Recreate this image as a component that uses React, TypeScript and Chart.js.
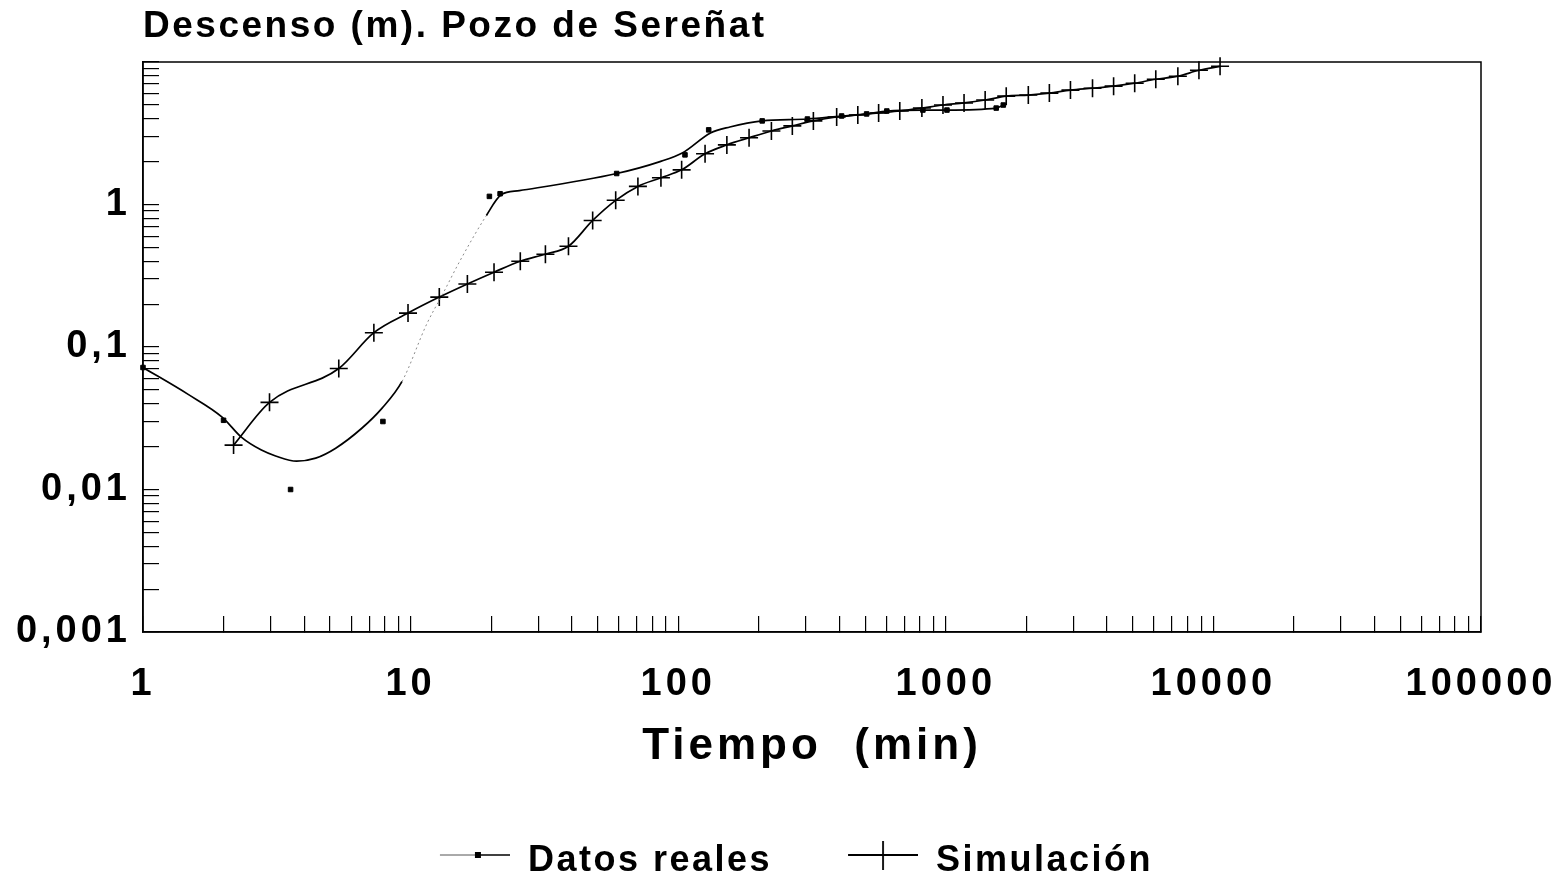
import React, { useEffect, useRef } from 'react';
import { Chart, registerables } from 'chart.js';

Chart.register(...registerables);

// ---- data ----
const chartTitle = 'Descenso (m). Pozo de Sereñat';
const xAxisTitle = 'Tiempo  (min)';
const seriesNames = ['Datos reales', 'Simulación'];

// measured drawdown (markers)
const realTime = [1, 2, 3.56, 7.88, 19.7, 21.6, 58.9, 106, 130, 206, 304, 408, 506, 602, 821, 1010, 1543, 1640];
const realDrawdown = [0.0718, 0.0306, 0.01, 0.03, 1.14, 1.19, 1.65, 2.23, 3.34, 3.86, 3.98, 4.18, 4.32, 4.53, 4.6, 4.6, 4.75, 4.99];

// smoothed curve through measured data (as drawn)
const curveTime = [1, 1.475, 1.98, 2.33, 2.77, 3.13, 3.75, 4.42, 5.25, 6.57, 7.81, 9.29, 11.5, 13.3, 15.2, 19.2, 21.8, 25.5, 58.9, 85.5, 104, 132, 156, 206, 304, 408, 506, 602, 821, 1010, 1543, 1640];
const curveDrawdown = [0.0718, 0.0465, 0.0321, 0.0233, 0.0189, 0.0172, 0.0158, 0.0166, 0.0195, 0.0269, 0.0371, 0.0573, 0.1455, 0.243, 0.394, 0.838, 1.17, 1.25, 1.65, 2.0, 2.31, 3.18, 3.5, 3.86, 3.98, 4.18, 4.32, 4.53, 4.6, 4.6, 4.75, 4.99];

// simulation
const simTime = [2.18, 2.97, 5.39, 7.29, 9.78, 12.8, 16.3, 20.5, 25.7, 31.9, 38.9, 47.9, 58.4, 70.7, 86.2, 103, 126, 152, 184, 223, 267, 320, 391, 469, 561, 673, 814, 976, 1170, 1403, 1682, 2034, 2438, 2923, 3534, 4237, 5080, 6091, 7365, 8830, 10590];
const simDrawdown = [0.0205, 0.0409, 0.0706, 0.126, 0.173, 0.224, 0.277, 0.335, 0.4, 0.448, 0.509, 0.773, 1.07, 1.34, 1.54, 1.75, 2.27, 2.62, 2.94, 3.28, 3.56, 3.86, 4.11, 4.25, 4.39, 4.53, 4.75, 4.99, 5.16, 5.41, 5.76, 5.86, 6.05, 6.35, 6.55, 6.77, 7.1, 7.57, 7.95, 8.75, 9.33];

// axes
const xRange = [1, 100000];
const yRange = [0.001, 10];
const xLabelValues = [1, 10, 100, 1000, 10000, 100000];
const xLabels = ['1', '10', '100', '1000', '10000', '100000'];
const yLabelValues = [0.001, 0.01, 0.1, 1];
const yLabels = ['0,001', '0,01', '0,1', '1'];

const FONT = '"Liberation Sans", Arial, Helvetica, sans-serif';

function logTicks(min: number, max: number) {
  const out: { value: number }[] = [];
  const e0 = Math.round(Math.log10(min));
  const e1 = Math.round(Math.log10(max));
  for (let e = e0; e < e1; e++) {
    for (let k = 1; k < 10; k++) out.push({ value: parseFloat((k * Math.pow(10, e)).toPrecision(6)) });
  }
  out.push({ value: max });
  return out;
}

function labelFor(v: number, values: number[], labels: string[]) {
  const i = values.findIndex((x) => Math.abs(Math.log10(x) - Math.log10(v)) < 1e-6);
  return i >= 0 ? labels[i] : '';
}

function makeIcon(kind: 'real' | 'sim') {
  const c = document.createElement('canvas');
  c.width = 127;
  c.height = 40;
  const g = c.getContext('2d')!;
  const y = 14;
  if (kind === 'real') {
    g.strokeStyle = '#555';
    g.lineWidth = 1;
    g.beginPath();
    g.moveTo(57, y);
    g.lineTo(93, y);
    g.stroke();
    g.strokeStyle = '#000';
    g.lineWidth = 1.6;
    g.beginPath();
    g.moveTo(93, y);
    g.lineTo(127, y);
    g.stroke();
    g.fillStyle = '#000';
    g.fillRect(92, y - 3, 6, 6);
  } else {
    g.strokeStyle = '#000';
    g.lineWidth = 1.8;
    g.beginPath();
    g.moveTo(57, y);
    g.lineTo(127, y);
    g.moveTo(92, 0);
    g.lineTo(92, 29);
    g.stroke();
  }
  return c;
}

const spacingPlugin = {
  id: 'letterSpacing',
  beforeDraw(chart: any) {
    chart.ctx.letterSpacing = '2.5px';
  },
  afterDatasetsDraw(chart: any) {
    chart.ctx.letterSpacing = '4px';
  },
  afterDraw(chart: any) {
    chart.ctx.letterSpacing = '0px';
  },
};

const framePlugin = {
  id: 'frame',
  afterDraw(chart: any) {
    const { ctx, chartArea } = chart;
    ctx.save();
    ctx.strokeStyle = '#000';
    ctx.lineWidth = 1.5;
    ctx.strokeRect(chartArea.left, chartArea.top, chartArea.right - chartArea.left, chartArea.bottom - chartArea.top);
    ctx.restore();
  },
};

export default function App() {
  const ref = useRef<HTMLCanvasElement>(null);

  useEffect(() => {
    const canvas = ref.current;
    if (!canvas) return;
    const iconReal = makeIcon('real');
    const iconSim = makeIcon('sim');

    const faint = (ctx: any) => ctx.p0.parsed.x >= 9 && ctx.p1.parsed.x <= 19.5;

    const chart = new Chart(canvas, {
      type: 'scatter',
      data: {
        datasets: [
          {
            label: seriesNames[0],
            data: curveTime.map((t, i) => ({ x: t, y: curveDrawdown[i] })),
            showLine: true,
            borderColor: '#000',
            borderWidth: 1.7,
            pointRadius: 0,
            cubicInterpolationMode: 'monotone',
            segment: {
              borderColor: (ctx: any) => (faint(ctx) ? '#8a8a8a' : undefined),
              borderDash: (ctx: any) => (faint(ctx) ? [2, 3] : undefined),
              borderWidth: (ctx: any) => (faint(ctx) ? 1 : undefined),
            },
          },
          {
            label: seriesNames[0] + ' (puntos)',
            data: realTime.map((t, i) => ({ x: t, y: realDrawdown[i] })),
            showLine: false,
            pointStyle: 'rect',
            pointRadius: 3.2,
            backgroundColor: '#000',
            borderColor: '#000',
            borderWidth: 1,
            clip: false,
          },
          {
            label: seriesNames[1],
            data: simTime.map((t, i) => ({ x: t, y: simDrawdown[i] })),
            showLine: true,
            borderColor: '#000',
            backgroundColor: '#000',
            borderWidth: 1.7,
            pointStyle: 'cross',
            pointRadius: 9,
            pointBorderWidth: 1.6,
            cubicInterpolationMode: 'monotone',
            clip: false,
          },
        ],
      } as any,
      options: {
        animation: false,
        responsive: false,
        events: [],
        layout: { padding: { left: 0, right: 81, top: 0, bottom: -12 } },
        font: { family: FONT },
        plugins: {
          tooltip: { enabled: false },
          title: {
            display: true,
            text: chartTitle,
            align: 'start',
            fullSize: false,
            color: '#000',
            font: { family: FONT, size: 37, weight: 'bold', lineHeight: 1.2 },
            padding: { top: 5, bottom: 12.6 },
          },
          legend: {
            display: true,
            position: 'bottom',
            align: 'center',
            labels: {
              usePointStyle: true,
              pointStyleWidth: 127,
              padding: 19,
              color: '#000',
              font: { family: FONT, size: 36, weight: 'bold' },
              generateLabels: () => [
                { text: seriesNames[0], pointStyle: iconReal, fillStyle: '#000', strokeStyle: '#000', lineWidth: 0, hidden: false, datasetIndex: 0, fontColor: '#000' },
                { text: seriesNames[1], pointStyle: iconSim, fillStyle: '#000', strokeStyle: '#000', lineWidth: 0, hidden: false, datasetIndex: 2, fontColor: '#000' },
              ],
            },
          },
        },
        scales: {
          x: {
            type: 'logarithmic',
            position: 'bottom',
            min: xRange[0],
            max: xRange[1],
            afterBuildTicks: (s: any) => {
              s.ticks = logTicks(xRange[0], xRange[1]);
            },
            afterFit: (s: any) => {
              s.height = 192;
              s.paddingLeft = 0;
              s.paddingRight = 0;
            },
            ticks: {
              autoSkip: false,
              maxRotation: 0,
              minRotation: 0,
              padding: 46,
              color: '#000',
              font: { family: FONT, size: 38, weight: 'bold' },
              callback: (v: any) => labelFor(Number(v), xLabelValues, xLabels),
              z: 1,
            },
            grid: { display: true, drawOnChartArea: false, drawTicks: true, tickLength: -16, color: '#000', lineWidth: 1.2, z: 1 },
            border: { display: true, color: '#000', width: 1.5, z: 1 },
            title: {
              display: true,
              text: xAxisTitle,
              color: '#000',
              font: { family: FONT, size: 44, weight: 'bold', lineHeight: 1.2 },
              padding: { top: 0, bottom: 51 },
            },
          },
          y: {
            type: 'logarithmic',
            position: 'left',
            min: yRange[0],
            max: yRange[1],
            afterBuildTicks: (s: any) => {
              s.ticks = logTicks(yRange[0], yRange[1]);
            },
            afterFit: (s: any) => {
              s.width = 143;
              s.paddingTop = 0;
              s.paddingBottom = 0;
            },
            ticks: {
              autoSkip: false,
              padding: 28,
              color: '#000',
              font: { family: FONT, size: 38, weight: 'bold' },
              callback: (v: any) => labelFor(Number(v), yLabelValues, yLabels),
              z: 1,
            },
            grid: { display: true, drawOnChartArea: false, drawTicks: true, tickLength: -16, color: '#000', lineWidth: 1.2, z: 1 },
            border: { display: true, color: '#000', width: 1.5, z: 1 },
          },
        },
      } as any,
      plugins: [spacingPlugin, framePlugin],
    });

    return () => chart.destroy();
  }, []);

  return (
    <div style={{ position: 'fixed', left: 0, top: 0, width: 1562, height: 877, background: '#fff' }}>
      <canvas ref={ref} width={1562} height={877} style={{ display: 'block', width: 1562, height: 877 }} />
    </div>
  );
}
